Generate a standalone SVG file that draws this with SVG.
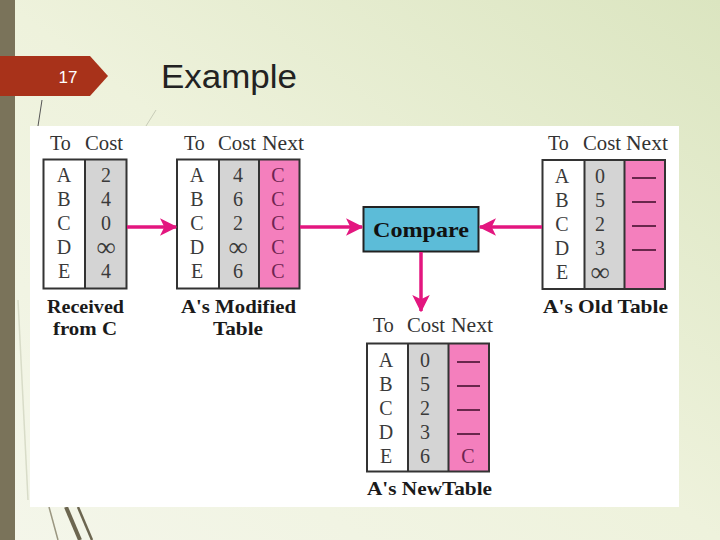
<svg xmlns="http://www.w3.org/2000/svg" width="720" height="540" viewBox="0 0 720 540">
<defs>
<linearGradient id="bg" x1="0" y1="1" x2="1" y2="0">
<stop offset="0" stop-color="#f4f6ea"/>
<stop offset="0.5" stop-color="#eef2dc"/>
<stop offset="1" stop-color="#dbe5c0"/>
</linearGradient>
<marker id="ah" viewBox="0 0 12 12" refX="11" refY="6" markerWidth="5" markerHeight="5" markerUnits="strokeWidth" orient="auto">
<path d="M0,0 L12,6 L0,12 L3,6 Z" fill="#e3167f"/>
</marker>
<style>
.cell{font-family:"Liberation Serif",serif;font-size:20px;fill:#3a3a3a;text-anchor:middle}
.inf{font-size:27px}
.hdr{font-family:"Liberation Serif",serif;font-size:20px;fill:#333}
.lbl{font-family:"Liberation Serif",serif;font-size:19.5px;font-weight:bold;fill:#1a1a1a;text-anchor:middle}
.nx{fill:#6e2350}
.box{stroke:#333;stroke-width:2}
.w{fill:#ffffff}
.g{fill:#d4d4d4}
.p{fill:#f47fbd}
.dash{stroke:#5a1e40;stroke-width:1.8}
.con{stroke:#e3167f;stroke-width:3.5;fill:none;marker-end:url(#ah)}
</style>
</defs>
<rect width="720" height="540" fill="url(#bg)"/>
<rect x="0" y="0" width="15" height="540" fill="#7a735a"/>
<g id="deco" fill="none">
<line x1="42" y1="100" x2="38" y2="126" stroke="#555" stroke-width="1"/>
<line x1="156" y1="110" x2="146" y2="126" stroke="#c8ccb8" stroke-width="1"/>
<line x1="49" y1="507" x2="58" y2="540" stroke="#9a9680" stroke-width="1.5"/>
<line x1="66" y1="507" x2="80" y2="540" stroke="#6c6650" stroke-width="4"/>
<line x1="78" y1="507" x2="92" y2="540" stroke="#6c6650" stroke-width="2.5"/>
<line x1="18" y1="300" x2="28" y2="500" stroke="#d8dcc8" stroke-width="1.5"/>
</g>
<g id="slide-number">
<path d="M0,56 H90 L108,76 L90,96 H0 Z" fill="#a8321a"/>
<text x="68" y="83" font-family="Liberation Sans,Arial,sans-serif" font-size="17" fill="#ffffff" text-anchor="middle">17</text>
</g>
<text id="title" x="161" y="88" font-family="Liberation Sans,Arial,sans-serif" font-size="33" fill="#222" textLength="136" lengthAdjust="spacingAndGlyphs">Example</text>
<rect id="panel" x="30" y="126" width="649" height="381" fill="#ffffff"/>

<g id="received">
<text class="hdr" x="50" y="150">To</text>
<text class="hdr" x="85" y="150" textLength="38" lengthAdjust="spacingAndGlyphs">Cost</text>
<rect class="w" x="43.5" y="159.5" width="41.5" height="129"/>
<rect class="g" x="85" y="159.5" width="41.5" height="129"/>
<rect class="box" x="43.5" y="159.5" width="83" height="129" fill="none"/>
<line class="box" x1="85" y1="159.5" x2="85" y2="288.5"/>
<g class="cell">
<text x="64" y="182">A</text><text x="64" y="206">B</text><text x="64" y="230">C</text><text x="64" y="254">D</text><text x="64" y="278">E</text>
<text x="106" y="182">2</text><text x="106" y="206">4</text><text x="106" y="230">0</text><text class="inf" x="106" y="256">∞</text><text x="106" y="278">4</text>
</g>
<text class="lbl" x="85.5" y="313" textLength="77" lengthAdjust="spacingAndGlyphs">Received</text>
<text class="lbl" x="85" y="335" textLength="64" lengthAdjust="spacingAndGlyphs">from C</text>
</g>

<g id="modified">
<text class="hdr" x="184" y="150">To</text>
<text class="hdr" x="218" y="150" textLength="38" lengthAdjust="spacingAndGlyphs">Cost</text>
<text class="hdr" x="262" y="150" textLength="42" lengthAdjust="spacingAndGlyphs">Next</text>
<rect class="w" x="177" y="159.5" width="42" height="129"/>
<rect class="g" x="219" y="159.5" width="40" height="129"/>
<rect class="p" x="259" y="159.5" width="40.5" height="129"/>
<rect class="box" x="177" y="159.5" width="122.5" height="129" fill="none"/>
<line class="box" x1="219" y1="159.5" x2="219" y2="288.5"/>
<line class="box" x1="259" y1="159.5" x2="259" y2="288.5"/>
<g class="cell">
<text x="197" y="182">A</text><text x="197" y="206">B</text><text x="197" y="230">C</text><text x="197" y="254">D</text><text x="197" y="278">E</text>
<text x="238" y="182">4</text><text x="238" y="206">6</text><text x="238" y="230">2</text><text class="inf" x="238" y="256">∞</text><text x="238" y="278">6</text>
<g class="nx"><text x="278" y="182">C</text><text x="278" y="206">C</text><text x="278" y="230">C</text><text x="278" y="254">C</text><text x="278" y="278">C</text></g>
</g>
<text class="lbl" x="238.5" y="313" textLength="115" lengthAdjust="spacingAndGlyphs">A's Modified</text>
<text class="lbl" x="238" y="335" textLength="50" lengthAdjust="spacingAndGlyphs">Table</text>
</g>

<g id="compare">
<rect x="363.5" y="207" width="115" height="44.5" fill="#5cbcd8" stroke="#222" stroke-width="2"/>
<text x="421" y="237" font-family="Liberation Serif,serif" font-size="22" font-weight="bold" fill="#111" text-anchor="middle" textLength="96" lengthAdjust="spacingAndGlyphs">Compare</text>
</g>

<g id="old">
<text class="hdr" x="548" y="150">To</text>
<text class="hdr" x="583" y="150" textLength="38" lengthAdjust="spacingAndGlyphs">Cost</text>
<text class="hdr" x="626" y="150" textLength="42" lengthAdjust="spacingAndGlyphs">Next</text>
<rect class="w" x="542.5" y="160" width="42" height="129"/>
<rect class="g" x="584.5" y="160" width="40" height="129"/>
<rect class="p" x="624.5" y="160" width="40.5" height="129"/>
<rect class="box" x="542.5" y="160" width="122.5" height="129" fill="none"/>
<line class="box" x1="584.5" y1="160" x2="584.5" y2="289"/>
<line class="box" x1="624.5" y1="160" x2="624.5" y2="289"/>
<g class="cell">
<text x="562" y="183">A</text><text x="562" y="207">B</text><text x="562" y="231">C</text><text x="562" y="255">D</text><text x="562" y="279">E</text>
<text x="600" y="183">0</text><text x="600" y="207">5</text><text x="600" y="231">2</text><text x="600" y="255">3</text><text class="inf" x="600" y="281">∞</text>
</g>
<line class="dash" x1="632" y1="178" x2="656" y2="178"/>
<line class="dash" x1="632" y1="202" x2="656" y2="202"/>
<line class="dash" x1="632" y1="226" x2="656" y2="226"/>
<line class="dash" x1="632" y1="250" x2="656" y2="250"/>
<text class="lbl" x="605.5" y="313" textLength="125" lengthAdjust="spacingAndGlyphs">A's Old Table</text>
</g>

<g id="new">
<text class="hdr" x="373" y="332">To</text>
<text class="hdr" x="407" y="332" textLength="38" lengthAdjust="spacingAndGlyphs">Cost</text>
<text class="hdr" x="451" y="332" textLength="42" lengthAdjust="spacingAndGlyphs">Next</text>
<rect class="w" x="367" y="343.5" width="41" height="128"/>
<rect class="g" x="408" y="343.5" width="40.5" height="128"/>
<rect class="p" x="448.5" y="343.5" width="40.5" height="128"/>
<rect class="box" x="367" y="343.5" width="122" height="128" fill="none"/>
<line class="box" x1="408" y1="343.5" x2="408" y2="471.5"/>
<line class="box" x1="448.5" y1="343.5" x2="448.5" y2="471.5"/>
<g class="cell">
<text x="386" y="367">A</text><text x="386" y="391">B</text><text x="386" y="415">C</text><text x="386" y="439">D</text><text x="386" y="463">E</text>
<text x="425" y="367">0</text><text x="425" y="391">5</text><text x="425" y="415">2</text><text x="425" y="439">3</text><text x="425" y="463">6</text>
<text class="nx" x="468" y="463">C</text>
</g>
<line class="dash" x1="457" y1="362" x2="480" y2="362"/>
<line class="dash" x1="457" y1="386" x2="480" y2="386"/>
<line class="dash" x1="457" y1="410" x2="480" y2="410"/>
<line class="dash" x1="457" y1="434" x2="480" y2="434"/>
<text class="lbl" x="429.5" y="495" textLength="125" lengthAdjust="spacingAndGlyphs">A's NewTable</text>
</g>

<g id="connectors">
<line class="con" x1="127" y1="227" x2="176" y2="227"/>
<line class="con" x1="300" y1="227" x2="362" y2="227"/>
<line class="con" x1="542" y1="227" x2="480" y2="227"/>
<line class="con" x1="421" y1="252" x2="421" y2="311"/>
</g>
</svg>
